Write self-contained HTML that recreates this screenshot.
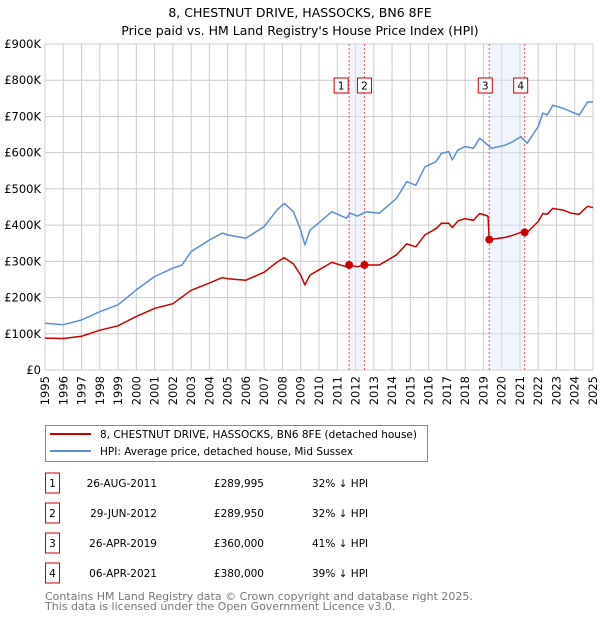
<!DOCTYPE html>
<html><head><meta charset="utf-8"><style>
body{margin:0;background:#fff;font-family:"Liberation Sans","DejaVu Sans",sans-serif;}
svg{display:block}
</style></head><body>
<svg id="c" width="600" height="620" xmlns="http://www.w3.org/2000/svg" font-family="DejaVu Sans, Liberation Sans, sans-serif">
<text x="300" y="17" text-anchor="middle" font-size="12.5" fill="#000">8, CHESTNUT DRIVE, HASSOCKS, BN6 8FE</text>
<text x="300" y="35" text-anchor="middle" font-size="12.5" fill="#000">Price paid vs. HM Land Registry's House Price Index (HPI)</text>
<g id="grid"></g>
<g id="shade"></g>
<g id="series"></g>
<g id="axes"></g>
<g>
<rect x="45.5" y="425.5" width="382" height="36" fill="#fff" stroke="#888"/>
<line x1="50" y1="434" x2="91" y2="434" stroke="#cc0000" stroke-width="2"/>
<text x="100" y="438" font-size="10.5">8, CHESTNUT DRIVE, HASSOCKS, BN6 8FE (detached house)</text>
<line x1="50" y1="451" x2="91" y2="451" stroke="#5b8fd4" stroke-width="2"/>
<text x="100" y="455" font-size="10.5">HPI: Average price, detached house, Mid Sussex</text>
</g>
<g id="table" font-size="10.5"></g>
<text x="45" y="600" font-size="11" fill="#777">Contains HM Land Registry data © Crown copyright and database right 2025.</text>
<text x="45" y="610" font-size="11" fill="#777">This data is licensed under the Open Government Licence v3.0.</text>
</svg>
<script>
const hpiYears=[1995,1996,1997,1998,1999,2000,2001,2002,2002.5,2003,2004,2004.7,2005,2006,2007,2007.7,2008.1,2008.6,2009.0,2009.23,2009.5,2010.05,2010.7,2011.5,2011.7,2012.1,2012.6,2013.3,2014.25,2014.8,2015.3,2015.8,2016.4,2016.7,2017.1,2017.3,2017.6,2018.0,2018.45,2018.8,2019.45,2020.2,2020.6,2021.05,2021.4,2022.0,2022.25,2022.5,2022.8,2023.4,2023.8,2024.25,2024.7,2025.0];
const hpiValues=[129,125,138,161,180,221,258,281,290,327,359,378,373,364,396,442,460,437,386,345,386,409,437,419,433,425,437,433,474,520,510,561,575,598,603,580,607,617,612,640,612,621,630,644,626,672,709,704,731,722,713,704,740,740];
const propYears=[1995,1996,1997,1998,1999,2000,2001,2002,2003,2004,2004.7,2005,2006,2007,2007.7,2008.1,2008.6,2009.0,2009.23,2009.5,2010.05,2010.7,2011.5,2011.65,2012.1,2012.49,2013.3,2014.25,2014.8,2015.3,2015.8,2016.4,2016.7,2017.1,2017.3,2017.6,2018.0,2018.45,2018.8,2019.25,2019.32,2020.2,2020.6,2021.05,2021.26,2021.4,2022,2022.25,2022.5,2022.8,2023.4,2023.8,2024.25,2024.7,2025];
const propValues=[88,87,93,110,122,148,170,183,220,240,255,252,248,270,298,310,293,262,235,262,278,297,285,290,285,290,290,318,348,340,373,390,405,405,393,411,418,413,432,425,360,366,372,380,380,380,410,432,430,446,441,433,430,452,448];
const saleLabels=["1","2","3","4"];
const saleYears=[2011.65,2012.49,2019.32,2021.26];
const salePrices=[289.995,289.95,360,380];
const saleDates=["26-AUG-2011","29-JUN-2012","26-APR-2019","06-APR-2021"];
const salePriceText=["£289,995","£289,950","£360,000","£380,000"];
const saleDiff=["32% ↓ HPI","32% ↓ HPI","41% ↓ HPI","39% ↓ HPI"];
const yTicks=[0,100,200,300,400,500,600,700,800,900];
const yTickLabels=["£0","£100K","£200K","£300K","£400K","£500K","£600K","£700K","£800K","£900K"];
const xTicks=[1995,1996,1997,1998,1999,2000,2001,2002,2003,2004,2005,2006,2007,2008,2009,2010,2011,2012,2013,2014,2015,2016,2017,2018,2019,2020,2021,2022,2023,2024,2025];

const NS="http://www.w3.org/2000/svg";
const X0=45,X1=593,Y0=370,Y1=44;
const xs=y=>X0+(y-1995)/30*(X1-X0);
const ys=v=>Y0-v/900*(Y0-Y1);
function mk(tag,attrs,parent){const e=document.createElementNS(NS,tag);for(const k in attrs)e.setAttribute(k,attrs[k]);parent.appendChild(e);return e;}
const grid=document.getElementById('grid'),axes=document.getElementById('axes'),shade=document.getElementById('shade'),series=document.getElementById('series'),table=document.getElementById('table');
yTicks.forEach((v,i)=>{
 const l=mk('line',{x1:X0,x2:X1,y1:ys(v),y2:ys(v),stroke:'#cccccc','stroke-width':1},grid);
 
 
 const t=mk('text',{x:X0-4,y:ys(v)+4,'text-anchor':'end','font-size':11.5},axes);
 t.textContent=yTickLabels[i];
 
 
});
xTicks.forEach(y=>{
 const l=mk('line',{x1:xs(y),x2:xs(y),y1:Y1,y2:Y0,stroke:'#cccccc','stroke-width':1},grid);
 
 
 const t=mk('text',{x:0,y:0,'text-anchor':'end','font-size':11.5,transform:`translate(${xs(y)+4},${Y0+6}) rotate(-90)`},axes);
 t.textContent=y;
 
 
});
const frame=mk('rect',{x:X0,y:Y1,width:X1-X0,height:Y0-Y1,fill:'none',stroke:'#cccccc'},grid);


[[0,1],[2,3]].forEach(p=>{
 const r=mk('rect',{x:xs(saleYears[p[0]]),y:Y1,width:xs(saleYears[p[1]])-xs(saleYears[p[0]]),height:Y0-Y1,fill:'#dde6f8','fill-opacity':0.45},shade);
 
 
});
saleYears.forEach((y,i)=>{
 const l=mk('line',{x1:xs(y),x2:xs(y),y1:Y1,y2:Y0,stroke:'#ee5555','stroke-width':1,'stroke-dasharray':'2,2'},shade);
 
 
});
function path(xa,va,color,name){
 const d=xa.map((y,i)=>(i?'L':'M')+xs(y).toFixed(1)+','+ys(va[i]).toFixed(1)).join('');
 const p=mk('path',{d:d,fill:'none',stroke:color,'stroke-width':1.5,'stroke-linejoin':'round'},series);
 
 
}
path(hpiYears,hpiValues,'#5b8fd4','hpi-line');
path(propYears,propValues,'#cc0000','property-line');
saleYears.forEach((y,i)=>{
 const c=mk('circle',{cx:xs(y),cy:ys(salePrices[i]),r:4,fill:'#cc0000'},series);
 
 
 const bx=(i===0?xs(y)-15:i===1?xs(y)-7:i===2?xs(y)-11:xs(y)-11);
 const b=mk('rect',{x:bx,y:78,width:14,height:15,fill:'#fff',stroke:'#cc0000'},series);
 
 
 const t=mk('text',{x:bx+7,y:89.5,'text-anchor':'middle','font-size':10.5},series);
 t.textContent=saleLabels[i];
 
 
});
saleLabels.forEach((s,i)=>{
 const cy=483+i*30;
 const b=mk('rect',{x:45.5,y:cy-10,width:14,height:20,fill:'#fff',stroke:'#cc0000'},table);
 
 
 const vals=[[s,52.5,'middle'],[saleDates[i],157,'end'],[salePriceText[i],264,'end'],[saleDiff[i],312,'start']];
 const names=['row-number','sale-date','sale-price','hpi-diff'];
 vals.forEach((v,j)=>{
  const t=mk('text',{x:v[1],y:cy+4,'text-anchor':v[2]},table);
  t.textContent=v[0];
  
  
 });
});
</script>
</body></html>
